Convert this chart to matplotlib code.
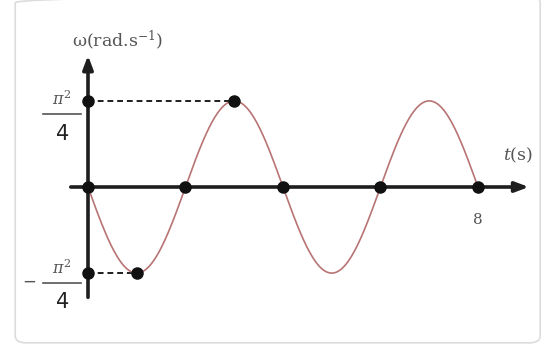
import numpy as np
import matplotlib.pyplot as plt
from matplotlib.patches import FancyBboxPatch

# angular velocity of the oscillator, period 4 s, amplitude pi^2/4
A = np.pi**2 / 4
T = 4.0
t_end = 8.0
marked_t = [0, 1, 2, 3, 4, 6, 8]

t = np.linspace(0, t_end, 400)
w = -A * np.sin(2 * np.pi * t / T)
marked_w = -A * np.sin(2 * np.pi * np.array(marked_t) / T)

plt.rcParams['mathtext.fontset'] = 'dejavuserif'

fig = plt.figure(figsize=(5.44, 3.47), dpi=100)
ax = fig.add_axes([0, 0, 1, 1])
ax.set_xlim(-88 / 48.75, (544 - 88) / 48.75)
ax.set_ylim(-(347 - 187) / 34.9, 187 / 34.9)
ax.axis('off')

# light frame around the drawing
frame = FancyBboxPatch((0.028, 0.012), 0.965, 1.0, boxstyle='round,pad=0,rounding_size=0.02',
                       transform=fig.transFigure, fill=False, ec='#dcdcdc', lw=1.2)
fig.patches.append(frame)

axc = '#1e1e1e'
# axes with arrows
ax.annotate('', xy=(9.1, 0), xytext=(-0.41, 0),
            arrowprops=dict(arrowstyle='-|>,head_length=0.8,head_width=0.3', color=axc, lw=2.6))
ax.annotate('', xy=(0, 3.85), xytext=(0, -3.24),
            arrowprops=dict(arrowstyle='-|>,head_length=0.8,head_width=0.3', color=axc, lw=2.6))

ax.plot(t, w, color='#b87474', lw=1.2, zorder=3)

# dashed guides to the extrema
ax.plot([0, 3], [A, A], ls=(0, (3, 2)), color=axc, lw=1.4)
ax.plot([0, 1], [-A, -A], ls=(0, (3, 2)), color=axc, lw=1.4)

ax.plot(marked_t, marked_w, 'o', color='#111111', ms=8, zorder=5)
ax.plot([0, 0], [A, -A], 'o', color='#111111', ms=8, zorder=5)

grey = '#555555'
ax.text(0.6, 4.2, r'$\mathregular{\omega}$(rad.s$^{-1}$)', family='DejaVu Serif', fontsize=12.5,
        color=grey, ha='center', va='center')
ax.text(8.82, 0.9, r'$t$(s)', family='DejaVu Serif', fontsize=12.5, color=grey, ha='center', va='center')
ax.text(8, -0.95, '8', family='DejaVu Serif', fontsize=11, color=grey, ha='center', va='center')

# fraction labels on the vertical axis
for sgn, yl in [(1, 2.08), (-1, -2.75)]:
    ax.text(-0.53, yl + 0.45, r'$\pi^2$', fontsize=11.5, color=grey, ha='center', va='center')
    ax.plot([-0.92, -0.15], [yl, yl], color=grey, lw=1.2)
    ax.text(-0.53, yl - 0.55, '4', family='DejaVu Sans', fontsize=15, color='#222222',
            ha='center', va='center')
    if sgn < 0:
        ax.text(-1.2, yl + 0.05, '\u2212', family='DejaVu Sans', fontsize=12, color=grey,
                ha='center', va='center')

fig.savefig('out.png', dpi=100)
